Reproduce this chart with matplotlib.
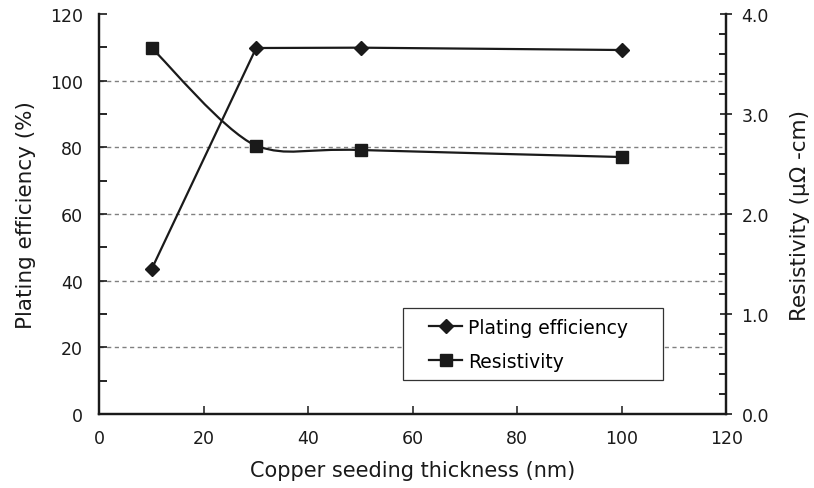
import numpy as np
import matplotlib
matplotlib.use("Agg")
import matplotlib.pyplot as plt
from matplotlib.path import Path
from matplotlib.patches import PathPatch, Rectangle
from matplotlib.lines import Line2D
from matplotlib.ticker import MultipleLocator, FormatStrFormatter

plt.rcParams['font.family'] = ['DejaVu Sans']

thickness = [10, 30, 50, 100]
plating_eff = [43.5, 109.8, 109.9, 109.2]
resistivity = [3.66, 2.68, 2.64, 2.57]

x_ticks = [0, 20, 40, 60, 80, 100, 120]
left_ticks = [0, 20, 40, 60, 80, 100, 120]
right_ticks = [0.0, 1.0, 2.0, 3.0, 4.0]

INK = '#1a1a1a'


def smooth_path(xs, ys):
    P = np.column_stack([xs, ys]).astype(float)
    n = len(P)
    ylo, yhi = P[:, 1].min(), P[:, 1].max()
    verts = [P[0]]
    codes = [Path.MOVETO]
    for i in range(n - 1):
        p0 = P[i - 1] if i > 0 else P[i]
        p1 = P[i]
        p2 = P[i + 1]
        p3 = P[i + 2] if i + 2 < n else P[i + 1]
        c1 = p1 + (p2 - p0) / 6.0
        c2 = p2 - (p3 - p1) / 6.0
        c1[1] = np.clip(c1[1], ylo, yhi)
        c2[1] = np.clip(c2[1], ylo, yhi)
        verts += [c1, c2, p2]
        codes += [Path.CURVE4] * 3
    return Path(verts, codes)


fig = plt.figure(figsize=(8.14, 4.89), dpi=100)
ax = fig.add_axes([0.1222, 0.1513, 0.7700, 0.8180])
ax2 = ax.twinx()

ax.set_xlim(0, 120)
ax.set_ylim(0, 120)
ax2.set_ylim(0, 4.0)

# grid
for v in left_ticks[1:-1]:
    ax.axhline(v, color='#808080', lw=1.0, ls=(0, (3, 2.5)), zorder=0)

# plating efficiency (straight segments)
ax.plot(thickness, plating_eff, ls='-', lw=1.6, marker='D', ms=6.8,
        color=INK, zorder=4)

# resistivity (smoothed)
rp = PathPatch(smooth_path(thickness, resistivity), fill=False, lw=1.6,
               edgecolor=INK, zorder=3)
ax2.add_patch(rp)
ax2.plot(thickness, resistivity, ls='none', marker='s', ms=9,
         color=INK, zorder=4)

ax.set_xticks(x_ticks)
ax.set_yticks(left_ticks)
ax.yaxis.set_minor_locator(MultipleLocator(10))
ax2.set_yticks(right_ticks)
ax2.yaxis.set_major_formatter(FormatStrFormatter('%.1f'))
ax2.yaxis.set_minor_locator(MultipleLocator(0.2))

for a in (ax, ax2):
    for s in a.spines.values():
        s.set_linewidth(1.6)
        s.set_color(INK)
    a.spines['top'].set_visible(False)

ax.tick_params(axis='x', direction='in', length=6, width=1.1, pad=11,
               labelsize=12.5, colors=INK)
ax.tick_params(axis='y', which='major', direction='in', length=6, width=1.2,
               pad=12, labelsize=12.5, colors=INK)
ax.tick_params(axis='y', which='minor', direction='in', length=6, width=1.2)
ax2.tick_params(axis='y', which='major', direction='inout', length=8, width=1.2,
                pad=7, labelsize=12.5, colors=INK)
ax2.tick_params(axis='y', which='minor', direction='in', length=5, width=1.2)

ax.set_xlabel('Copper seeding thickness (nm)', fontsize=15, color=INK,
              labelpad=9)
ax.set_ylabel('Plating efficiency (%)', fontsize=15.5, color=INK,
              labelpad=10)
ax2.set_ylabel('Resistivity (μΩ -cm)', fontsize=15.5, color=INK,
               labelpad=15)

# legend frame
frame = Rectangle((0.4844, 0.085), 0.415, 0.18, transform=ax2.transAxes,
                  facecolor='white', edgecolor='#333333', lw=0.9, zorder=9)
ax2.add_patch(frame)

handles = [Line2D([], [], color=INK, lw=1.6, marker='D', ms=6.8),
           Line2D([], [], color=INK, lw=1.6, marker='s', ms=9)]
leg = ax2.legend(handles, ['Plating efficiency', 'Resistivity'],
                 loc='center left', bbox_to_anchor=(0.526, 0.175),
                 fontsize=13.5, frameon=False, handlelength=1.76,
                 handletextpad=0.32, borderpad=0, labelspacing=0.8,
                 borderaxespad=0)
leg.set_zorder(10)

fig.savefig('out.png', dpi=100)
